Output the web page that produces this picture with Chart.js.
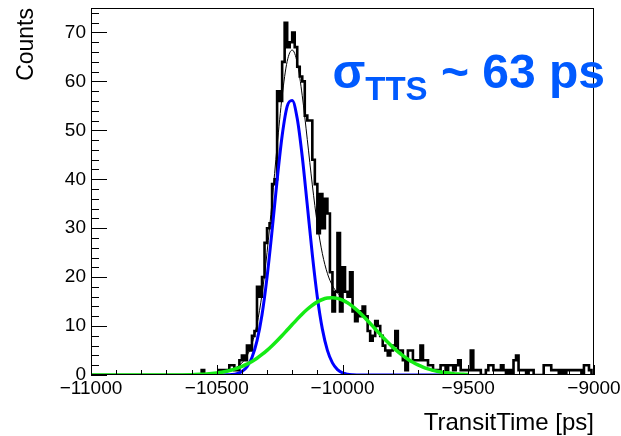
<!DOCTYPE html>
<html>
<head>
<meta charset="utf-8">
<script src="https://cdn.jsdelivr.net/npm/chart.js@4.4.1/dist/chart.umd.min.js"></script>
<style>
  html, body { margin: 0; padding: 0; background: #fff; }
  canvas { display: block; }
</style>
</head>
<body>
<canvas id="ttsChart" width="621" height="436"></canvas>
<script>
// Histogram binning (ps), 200 bins of 10 ps from -11000
var binStart = -11000;
var binWidth = 10;
var binEnd = -9000;

// Counts per bin
var counts = [
    0, 0, 0, 0, 0, 0, 0, 0, 0, 0,
    0, 0, 0, 0, 0, 0, 0, 0, 0, 0,
    0, 0, 0, 0, 0, 0, 0, 0, 0, 0,
    0, 0, 0, 0, 0, 0, 0, 0, 0, 0,
    0, 0, 0, 0, 1, 0, 0, 0, 0, 0,
    0, 1, 1, 1, 1, 2, 2, 1, 1, 3,
    4, 3, 6, 5, 8, 9, 18, 16, 20, 27,
    30, 31, 39, 40, 58, 56, 64, 72, 67, 68,
    70, 67, 63, 61, 60, 53, 52, 52, 44, 39,
    29, 37, 30, 36, 33, 21, 13, 17, 29, 13,
    22, 17, 16, 21, 13, 11, 13, 12, 14, 12,
    9, 7, 8, 11, 10, 8, 6, 5, 4, 5,
    6, 9, 5, 5, 3, 1, 5, 5, 3, 3,
    3, 6, 3, 3, 2, 2, 1, 1, 1, 2,
    2, 1, 2, 2, 1, 2, 3, 1, 1, 1,
    1, 5, 1, 1, 1, 0, 0, 1, 2, 2,
    1, 1, 1, 2, 1, 0, 1, 0, 3, 4,
    1, 1, 1, 0, 1, 1, 0, 0, 0, 0,
    2, 2, 2, 1, 1, 1, 0, 1, 0, 1,
    1, 1, 1, 1, 1, 0, 2, 2, 1, 0
];

// Fit components sampled every 20 ps from -10520 to -9500
var fitStart = -10520;
var fitStep = 20;
var fastGaus = [
    0.0, 0.0, 0.01, 0.03, 0.10, 0.28, 0.72, 1.67, 3.57, 6.96,
    12.3, 20.0, 29.5, 39.8, 48.9, 54.9, 56.1, 52.4, 44.6, 34.7,
    24.6, 15.9, 9.37, 5.04, 2.47, 1.11, 0.45, 0.17, 0.06, 0.02,
    0, 0, 0, 0, 0, 0, 0, 0, 0, 0,
    0, 0, 0, 0, 0, 0, 0, 0, null, null,
    null, null
];
var slowGaus = [
    0.31, 0.43, 0.58, 0.78, 1.03, 1.35, 1.74, 2.21, 2.78, 3.43,
    4.19, 5.04, 5.98, 7.00, 8.07, 9.19, 10.31, 11.42, 12.47, 13.43,
    14.26, 14.94, 15.43, 15.72, 15.80, 15.66, 15.30, 14.75, 14.02, 13.15,
    12.16, 11.09, 9.98, 8.85, 7.75, 6.68, 5.69, 4.77, 3.95, 3.23,
    2.60, 2.06, 1.62, 1.25, 0.95, 0.72, 0.53, 0.39, 0.28, 0.20,
    0.14, 0.10
];
// slow component runs along zero before the sampled grid
var slowLeadX = [-11000, -10800, -10600, -10560, -10540];
var slowLeadY = [0, 0, 0.07, 0.16, 0.22];

// Axes
var xTicks = [-11000, -10500, -10000, -9500, -9000];
var yTicks = [0, 10, 20, 30, 40, 50, 60, 70];
var yMax = 75;

// Annotation
var labelX = -10040;
var labelY = 58.6;
var labelMain = "\u03c3";
var labelSub = "TTS";
var labelRest = " ~ 63 ps";

var fontFamily = "'Liberation Sans', Arial, Helvetica, sans-serif";

// build histogram points (left edges, plus closing edge)
var histPoints = counts.map(function (c, i) {
    return { x: binStart + i * binWidth, y: c };
});
histPoints.push({ x: binEnd, y: counts[counts.length - 1] });

var fastPoints = [];
var slowPoints = [];
var totalPoints = [];
slowLeadX.forEach(function (x, i) {
    slowPoints.push({ x: x, y: slowLeadY[i] });
});
slowGaus.forEach(function (v, i) {
    var x = fitStart + i * fitStep;
    slowPoints.push({ x: x, y: v });
    fastPoints.push({ x: x, y: fastGaus[i] });
    totalPoints.push({ x: x, y: v + (fastGaus[i] || 0) });
});

function minusLabel(value) {
    return value < 0 ? "\u2212" + Math.abs(value) : String(value);
}

// ROOT style frame with inward ticks
var rootFrame = {
    id: "rootFrame",
    afterDatasetsDraw: function (chart) {
        var ctx = chart.ctx;
        var a = chart.chartArea;
        var xs = chart.scales.x;
        var ys = chart.scales.y;
        ctx.save();
        ctx.strokeStyle = "#000";
        ctx.lineWidth = 1;
        ctx.strokeRect(a.left + 0.5, a.top + 0.5, a.right - a.left - 1, a.bottom - a.top - 1);

        ctx.beginPath();
        for (var v = xs.min; v <= xs.max; v += 100) {
            var px = Math.round(xs.getPixelForValue(v)) + 0.5;
            var len = v % 500 === 0 ? 10 : 5;
            ctx.moveTo(px, a.bottom);
            ctx.lineTo(px, a.bottom - len);
        }
        for (var w = 0; w <= yMax; w += 2) {
            var py = Math.round(ys.getPixelForValue(w)) + 0.5;
            var ylen = w % 10 === 0 ? 16 : 8;
            ctx.moveTo(a.left, py);
            ctx.lineTo(a.left + ylen, py);
        }
        ctx.stroke();
        ctx.restore();
    },
    afterDraw: function (chart) {
        var ctx = chart.ctx;
        var x = chart.scales.x.getPixelForValue(labelX);
        var y = chart.scales.y.getPixelForValue(labelY);
        ctx.save();
        ctx.fillStyle = "rgb(0, 90, 255)";
        ctx.textBaseline = "alphabetic";
        ctx.textAlign = "left";
        ctx.font = "bold 48px " + fontFamily;
        ctx.fillText(labelMain, x, y);
        x += ctx.measureText(labelMain).width;
        ctx.font = "bold 33px " + fontFamily;
        ctx.fillText(labelSub, x, y + 12);
        x += ctx.measureText(labelSub).width;
        ctx.font = "bold 48px " + fontFamily;
        ctx.fillText(labelRest, x, y);
        ctx.restore();
    }
};

var ctx = document.getElementById("ttsChart").getContext("2d");
var ttsChart = new Chart(ctx, {
    type: "line",
    data: {
        datasets: [
            {
                label: "slow",
                data: slowPoints,
                borderColor: "rgb(20, 235, 20)",
                borderWidth: 3.5,
                pointRadius: 0,
                cubicInterpolationMode: "monotone",
                order: 0
            },
            {
                label: "fast",
                data: fastPoints,
                borderColor: "#0000ff",
                borderWidth: 3,
                pointRadius: 0,
                cubicInterpolationMode: "monotone",
                spanGaps: false,
                order: 1
            },
            {
                label: "total",
                data: totalPoints,
                borderColor: "#000",
                borderWidth: 1,
                pointRadius: 0,
                cubicInterpolationMode: "monotone",
                order: 2
            },
            {
                label: "TransitTime",
                data: histPoints,
                borderColor: "#000",
                borderWidth: 2.6,
                pointRadius: 0,
                stepped: "before",
                borderJoinStyle: "miter",
                order: 3
            }
        ]
    },
    options: {
        responsive: false,
        animation: false,
        devicePixelRatio: 1,
        layout: { padding: { top: 8, right: 27, left: 0, bottom: 0 } },
        plugins: {
            legend: { display: false },
            tooltip: { enabled: false }
        },
        scales: {
            x: {
                type: "linear",
                min: binStart,
                max: binEnd,
                afterBuildTicks: function (scale) {
                    scale.ticks = xTicks.map(function (v) { return { value: v }; });
                },
                afterFit: function (scale) {
                    scale.height = 61;
                    scale.paddingLeft = 0;
                    scale.paddingRight = 0;
                },
                grid: { display: false, drawTicks: false },
                border: { display: false },
                ticks: {
                    autoSkip: false,
                    maxRotation: 0,
                    padding: 2,
                    color: "#000",
                    font: { family: fontFamily, size: 19 },
                    callback: minusLabel
                },
                title: {
                    display: true,
                    text: "TransitTime [ps]",
                    align: "end",
                    color: "#000",
                    font: { family: fontFamily, size: 24, lineHeight: 1 },
                    padding: { top: 0, bottom: 1 }
                }
            },
            y: {
                min: 0,
                max: yMax,
                afterBuildTicks: function (scale) {
                    scale.ticks = yTicks.map(function (v) { return { value: v }; });
                },
                afterFit: function (scale) {
                    scale.width = 91;
                    scale.paddingTop = 0;
                    scale.paddingBottom = 0;
                },
                grid: { display: false, drawTicks: false },
                border: { display: false },
                ticks: {
                    padding: 5,
                    color: "#000",
                    font: { family: fontFamily, size: 19 }
                },
                title: {
                    display: true,
                    text: "Counts",
                    align: "end",
                    color: "#000",
                    font: { family: fontFamily, size: 23, lineHeight: 1.2 },
                    padding: { top: 13, bottom: 0 }
                }
            }
        }
    },
    plugins: [rootFrame]
});
</script>
</body>
</html>
